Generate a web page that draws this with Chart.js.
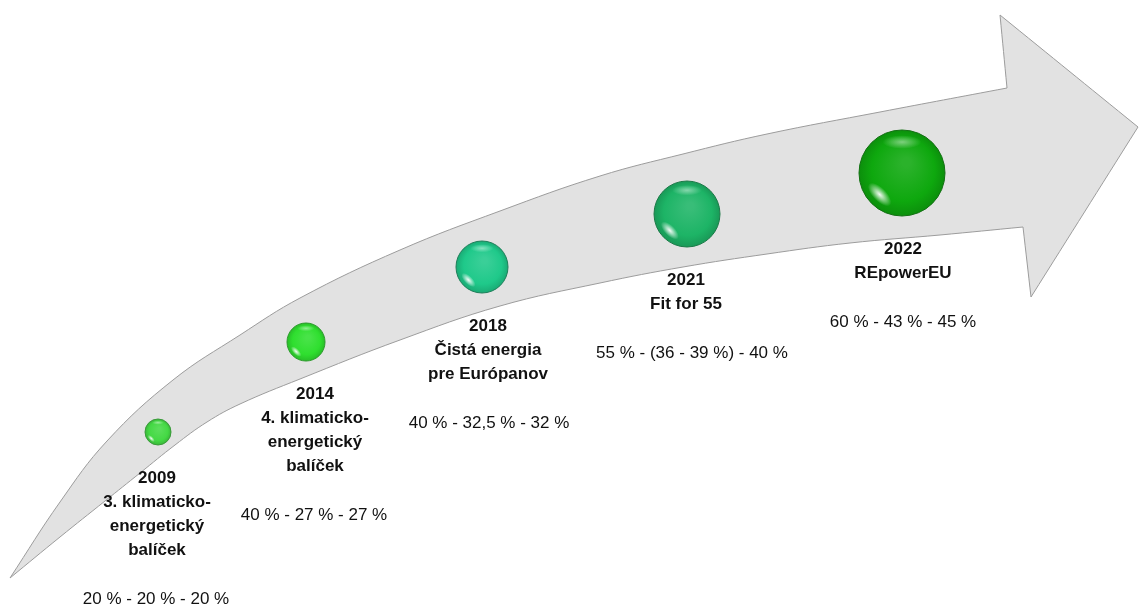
<!DOCTYPE html>
<html>
<head>
<meta charset="utf-8">
<title>Klimaticko-energetické balíčky EÚ</title>
<script src="https://cdn.jsdelivr.net/npm/chart.js"></script>
<style>
  html, body { margin: 0; padding: 0; background: #fff; }
  #wrap { width: 1139px; height: 610px; position: relative; }
</style>
</head>
<body>
<div id="wrap"><canvas id="timeline"></canvas></div>
<script>
// milníky
const years = ["2009", "2014", "2018", "2021", "2022"];
const titles = [
  ["3. klimaticko-", "energetický", "balíček"],
  ["4. klimaticko-", "energetický", "balíček"],
  ["Čistá energia", "pre Európanov"],
  ["Fit for 55"],
  ["REpowerEU"]
];
const targets = [
  "20 % - 20 % - 20 %",
  "40 % - 27 % - 27 %",
  "40 % - 32,5 % - 32 %",
  "55 % - (36 - 39 %) - 40 %",
  "60 % - 43 % - 45 %"
];
// guľe na šípke
const bubbleX = [158, 306, 482, 687, 902];
const bubbleY = [432, 342, 267, 214, 173];
const bubbleR = [13, 19, 26, 33, 43];

// obrys šípky: horná hrana -> hrot -> dolná hrana späť k chvostu
const arrowX = [10, 60, 107, 173, 240, 300, 400, 500, 600, 683, 767, 880,
  1007, 1007, 1000, 1000, 1138, 1138, 1031, 1031, 1023, 1023,
  940, 850, 767, 683, 600, 500, 400, 300, 240, 207, 175, 140, 105, 60, 10];
const arrowY = [578, 502, 441, 380, 335, 298, 250, 211, 176, 154, 134, 112,
  88, 88, 15, 15, 127, 127, 297, 297, 227, 227,
  235, 243, 254, 267, 283, 306, 340, 379, 404, 422, 445, 473, 501, 537, 578];

// vzhľad
const ballColors = ["#44d944", "#2fdf2f", "#1fc98a", "#1db466", "#0ea80e"];
const ballEdge = ["#3a9a3a", "#2a9a2a", "#1f7f5a", "#1c7a48", "#127012"];
const titleShift = [-1, 9, 6, -1, 1];
const valueShift = [-2, 8, 7, 5, 1];
const lineGap = 24;
const FONT = '"Liberation Sans", Arial, sans-serif';

function shade(hex, amt) {
  const n = parseInt(hex.slice(1), 16);
  let r = (n >> 16) & 255, g = (n >> 8) & 255, b = n & 255;
  const f = v => Math.max(0, Math.min(255, Math.round(amt >= 0 ? v + (255 - v) * amt : v * (1 + amt))));
  return `rgb(${f(r)},${f(g)},${f(b)})`;
}

const ballFill = (ctx) => {
  if (ctx.type !== 'data') return ballColors[0];
  const col = ballColors[ctx.dataIndex];
  const c = ctx.chart;
  const x = c.scales.x.getPixelForValue(ctx.raw.x);
  const y = c.scales.y.getPixelForValue(ctx.raw.y);
  const r = ctx.raw.r;
  if (!isFinite(x) || !isFinite(y) || !c.chartArea) return col;
  const g = c.ctx.createRadialGradient(x + r * 0.1, y - r * 0.25, r * 0.1, x, y, r);
  g.addColorStop(0, shade(col, 0.12));
  g.addColorStop(0.7, col);
  g.addColorStop(1, shade(col, -0.15));
  return g;
};

// odlesky na guliach
const shinePlugin = {
  id: 'shine',
  afterDatasetsDraw(chart) {
    const meta = chart.getDatasetMeta(1);
    const ctx = chart.ctx;
    meta.data.forEach((el) => {
      const r = el.options.radius;
      ctx.save();
      ctx.beginPath();
      ctx.arc(el.x, el.y, r, 0, Math.PI * 2);
      ctx.clip();
      // spodný biely lesk vľavo
      ctx.save();
      ctx.translate(el.x - r * 0.52, el.y + r * 0.5);
      ctx.rotate(Math.PI / 4);
      ctx.scale(1, 0.45);
      const g = ctx.createRadialGradient(0, 0, 0, 0, 0, r * 0.35);
      g.addColorStop(0, 'rgba(255,255,255,0.95)');
      g.addColorStop(1, 'rgba(255,255,255,0)');
      ctx.fillStyle = g;
      ctx.beginPath();
      ctx.arc(0, 0, r * 0.35, 0, Math.PI * 2);
      ctx.fill();
      ctx.restore();
      // horný svetlý pás
      ctx.translate(el.x, el.y - r * 0.72);
      ctx.scale(1, 0.35);
      const g2 = ctx.createRadialGradient(0, 0, 0, 0, 0, r * 0.45);
      g2.addColorStop(0, 'rgba(255,255,255,0.45)');
      g2.addColorStop(1, 'rgba(255,255,255,0)');
      ctx.fillStyle = g2;
      ctx.beginPath();
      ctx.arc(0, 0, r * 0.45, 0, Math.PI * 2);
      ctx.fill();
      ctx.restore();
    });
  }
};

// popisy pod guľami
const labelPlugin = {
  id: 'labels',
  afterDraw(chart) {
    const meta = chart.getDatasetMeta(1);
    const ctx = chart.ctx;
    ctx.save();
    ctx.fillStyle = '#111';
    ctx.textAlign = 'center';
    ctx.textBaseline = 'middle';
    meta.data.forEach((el, i) => {
      const r = el.options.radius;
      let y = el.y + r + 33;
      const tx = el.x + titleShift[i];
      ctx.font = 'bold 17px ' + FONT;
      ctx.fillText(years[i], tx, y);
      titles[i].forEach(line => {
        y += lineGap;
        ctx.fillText(line, tx, y);
      });
      ctx.font = '17px ' + FONT;
      ctx.fillText(targets[i], el.x + valueShift[i], y + 49);
    });
    ctx.restore();
  }
};

const arrowPoints = arrowX.map((x, i) => ({ x: x, y: arrowY[i] }));
const balls = years.map((yr, i) => ({ x: bubbleX[i], y: bubbleY[i], r: bubbleR[i] }));

new Chart(document.getElementById('timeline'), {
  type: 'bubble',
  data: {
    datasets: [
      {
        type: 'line',
        label: 'šípka',
        data: arrowPoints,
        order: 2,
        fill: 'shape',
        backgroundColor: '#e2e2e2',
        borderColor: '#9c9c9c',
        borderWidth: 1,
        tension: 0.4,
        pointRadius: 0,
        clip: false
      },
      {
        label: 'balíčky',
        data: balls,
        order: 1,
        backgroundColor: ballFill,
        borderColor: ballEdge,
        borderWidth: 1,
        clip: false
      }
    ]
  },
  options: {
    responsive: true,
    maintainAspectRatio: false,
    animation: false,
    events: [],
    layout: { padding: 0, autoPadding: false },
    plugins: { legend: { display: false }, tooltip: { enabled: false } },
    scales: {
      x: { type: 'linear', min: 0, max: 1139, display: false },
      y: { type: 'linear', min: 0, max: 610, reverse: true, display: false }
    }
  },
  plugins: [shinePlugin, labelPlugin]
});
</script>
</body>
</html>
